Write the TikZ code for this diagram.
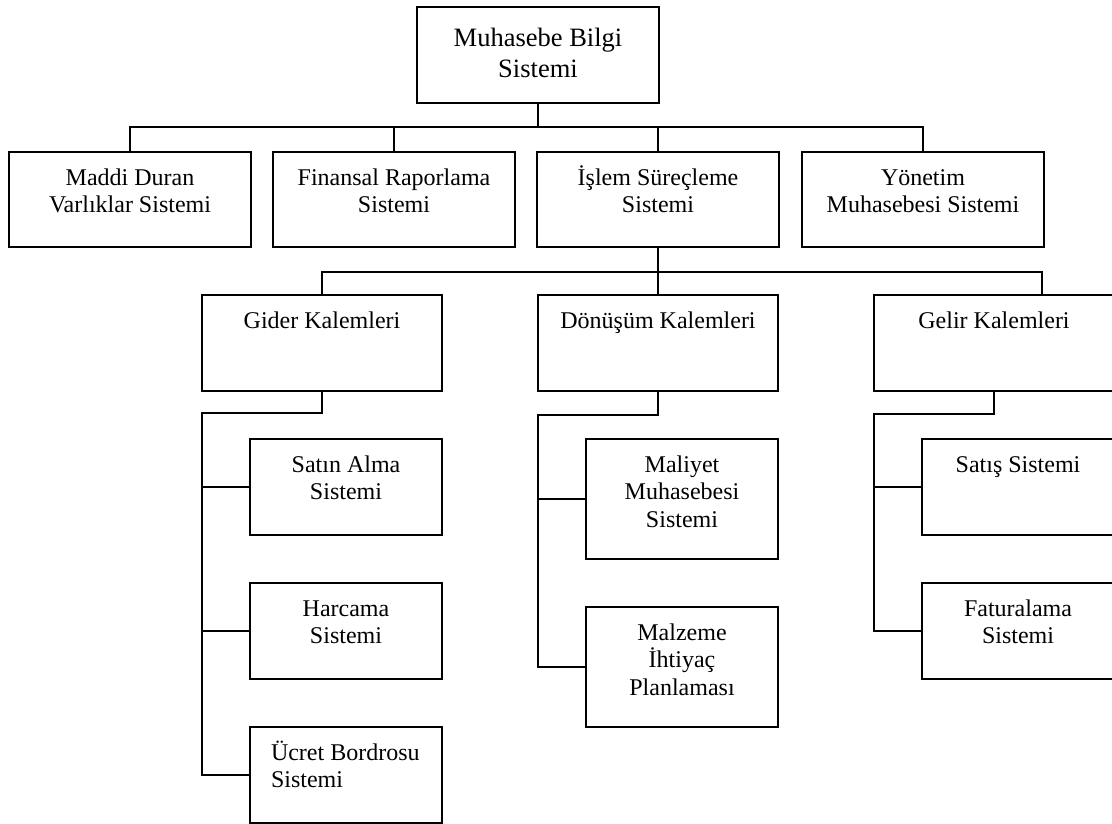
\documentclass[tikz,border=0pt]{standalone}
\usepackage{fontspec}
\setmainfont{Liberation Serif}
\usepackage{tikz}
\usetikzlibrary{positioning,calc}

\newcommand{\kutuyazi}[4][\centering]{\parbox[t][#3][t]{#2}{#1\rule{0pt}{33pt}#4}}

\begin{document}
\begin{tikzpicture}[x=1pt,y=-1pt,
  kutu/.style={draw,line width=2pt,inner sep=0pt,outer sep=0pt,anchor=north west,
    font=\fontsize{24}{27.5}\selectfont},
  hat/.style={line width=2pt}]
\useasboundingbox (0,0) rectangle (1112,823);
% ana sistem
\node[kutu,font=\fontsize{26.5}{31}\selectfont] (ana) at (417,7)
 {\parbox[t][96pt][t]{242pt}{\centering\rule{0pt}{39pt}Muhasebe Bilgi\\Sistemi}};
% alt sistemler
\foreach \x/\ad/\yazi in {
  9/maddi/{Maddi Duran\\Varlıklar Sistemi},
  273/finans/{Finansal Raporlama\\Sistemi},
  537/islem/{İşlem Süreçleme\\Sistemi},
  802/yonetim/{Yönetim\\Muhasebesi Sistemi}}
 \node[kutu] (\ad) at (\x,152) {\kutuyazi{242pt}{95pt}{\yazi}};
% kalemler
\foreach \x/\ad/\yazi in {
  202/gider/{Gider Kalemleri},
  538/donusum/{Dönüşüm Kalemleri},
  874/gelir/{Gelir Kalemleri}}
 \node[kutu] (\ad) at (\x,295) {\kutuyazi{240pt}{96pt}{\yazi}};
% gider
\node[kutu] (satin) at (250,439) {\kutuyazi{192pt}{96pt}{Satın Alma\\Sistemi}};
\node[kutu] (harcama) at (250,583) {\kutuyazi{192pt}{96pt}{Harcama\\Sistemi}};
\node[kutu] (ucret) at (250,727)
 {\kutuyazi[\raggedright\leftskip=21pt\relax]{192pt}{96pt}{Ücret Bordrosu\\Sistemi}};
% donusum
\node[kutu] (maliyet) at (586,439) {\kutuyazi{192pt}{120pt}{Maliyet\\Muhasebesi\\Sistemi}};
\node[kutu] (malzeme) at (586,607) {\kutuyazi{192pt}{120pt}{Malzeme\\İhtiyaç\\Planlaması}};
% gelir
\node[kutu] (satis) at (922,439) {\kutuyazi{192pt}{96pt}{Satış Sistemi}};
\node[kutu] (fatura) at (922,583) {\kutuyazi{192pt}{96pt}{Faturalama\\Sistemi}};

% baglantilar
\coordinate (cat1) at (538,127);
\draw[hat] (ana.south) -- (cat1);
\foreach \ad in {maddi,finans,islem,yonetim}
 \draw[hat] (cat1) -| (\ad.north);
\coordinate (cat2) at (658,272);
\draw[hat] (islem.south) -- (cat2);
\draw[hat] (cat2) -| (gider.north);
\draw[hat] (cat2) -| (donusum.north);
\draw[hat] (cat2) -| ([xshift=48pt]gelir.north);

\coordinate (gkol) at (202,413);
\draw[hat] (gider.south) |- (gkol) -- (gkol |- ucret.west) -- (ucret.west);
\draw[hat] (gkol |- satin.west) -- (satin.west);
\draw[hat] (gkol |- harcama.west) -- (harcama.west);

\coordinate (dkol) at (538,415);
\draw[hat] (donusum.south) |- (dkol) -- (dkol |- malzeme.west) -- (malzeme.west);
\draw[hat] (dkol |- maliyet.west) -- (maliyet.west);

\coordinate (gelkol) at (874,414);
\draw[hat] (gelir.south) |- (gelkol) -- (gelkol |- fatura.west) -- (fatura.west);
\draw[hat] (gelkol |- satis.west) -- (satis.west);
\end{tikzpicture}
\end{document}
